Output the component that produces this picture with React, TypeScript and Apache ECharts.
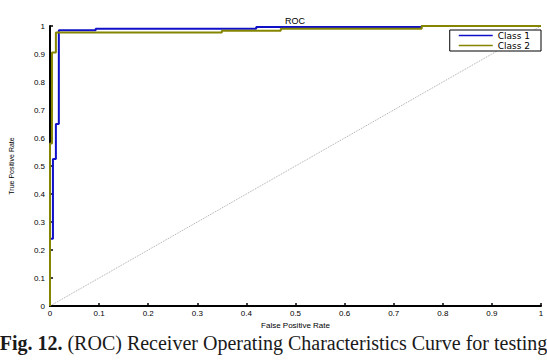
import React, { useEffect, useRef } from "react";
import * as echarts from "echarts";

const class1Points: [number, number][] = [
  [0, 0], [0, 0.24], [0.006, 0.24], [0.006, 0.525], [0.012, 0.525], [0.012, 0.65],
  [0.018, 0.65], [0.018, 0.985], [0.093, 0.985], [0.093, 0.99], [0.42, 0.99],
  [0.42, 0.996], [0.757, 0.996], [0.757, 1], [1, 1],
];
const class2Points: [number, number][] = [
  [0, 0], [0, 0.58], [0.004, 0.58], [0.004, 0.905], [0.012, 0.905], [0.012, 0.977],
  [0.35, 0.977], [0.35, 0.983], [0.47, 0.983], [0.47, 0.99], [0.757, 0.99],
  [0.757, 1], [1, 1],
];
const diagonalPoints: [number, number][] = [[0, 0], [1, 1]];
const seriesNames = ["Class 1", "Class 2"];
const chartTitle = "ROC";
const xAxisName = "False Positive Rate";
const yAxisName = "True Positive Rate";
const captionBold = "Fig. 12.";
const captionRest = " (ROC) Receiver Operating Characteristics Curve for testing";

export default function App() {
  const ref = useRef<HTMLDivElement>(null);
  useEffect(() => {
    if (!ref.current) return;
    const chart = echarts.init(ref.current, null, { renderer: "svg" });
    const sans = "Liberation Sans, Arial, sans-serif";
    const axisCommon = {
      type: "value" as const,
      min: 0,
      max: 1,
      interval: 0.1,
      splitLine: { show: false },
      axisLine: { show: true, lineStyle: { color: "#000", width: 2 } },
      axisTick: { show: true, inside: true, length: 3, lineStyle: { color: "#000", width: 1.5 } },
      axisLabel: {
        color: "#000",
        fontSize: 8,
        fontFamily: sans,
        formatter: (v: number) => (v === 0 || v === 1 ? String(v) : v.toFixed(1)),
      },
      nameTextStyle: { color: "#000", fontSize: 8, fontFamily: sans },
    };
    chart.setOption({
      animation: false,
      backgroundColor: "#fff",
      title: {
        text: chartTitle,
        left: 280,
        top: 11,
        textStyle: { fontSize: 9, fontWeight: "normal", color: "#000", fontFamily: sans },
      },
      legend: {
        right: 6,
        top: 30,
        orient: "vertical",
        data: seriesNames,
        icon: "rect",
        itemWidth: 34,
        itemHeight: 1.5,
        itemGap: 1,
        padding: [1, 11, 1, 9],
        borderColor: "#000",
        borderWidth: 1,
        backgroundColor: "#fff",
        textStyle: { fontSize: 9, lineHeight: 9, color: "#000", fontFamily: "DejaVu Sans, sans-serif", padding: [0, 0, 0, 0] },
      },
      grid: { left: 44, right: 6, top: 26, bottom: 54 },
      xAxis: {
        ...axisCommon,
        name: xAxisName,
        nameLocation: "middle",
        nameGap: 14,
        axisLabel: { ...axisCommon.axisLabel, margin: 3 },
      },
      yAxis: {
        ...axisCommon,
        name: yAxisName,
        nameLocation: "middle",
        nameGap: 35,
        nameTextStyle: { color: "#000", fontSize: 7, fontFamily: sans },
        axisLabel: { ...axisCommon.axisLabel, margin: 5 },
      },
      series: [
        {
          type: "line",
          data: diagonalPoints,
          showSymbol: false,
          silent: true,
          lineStyle: { color: "#a8a8a8", width: 1, type: "dotted" },
          z: 1,
        },
        {
          name: seriesNames[0],
          type: "line",
          data: class1Points,
          showSymbol: false,
          lineStyle: { color: "#1010c8", width: 2 },
          itemStyle: { color: "#1010c8" },
          z: 2,
        },
        {
          name: seriesNames[1],
          type: "line",
          data: class2Points,
          showSymbol: false,
          lineStyle: { color: "#858500", width: 2 },
          itemStyle: { color: "#858500" },
          z: 3,
        },
      ],
      graphic: [
        {
          type: "text",
          left: "center",
          top: 333,
          style: {
            text: `{b|${captionBold}}{r|${captionRest}}`,
            rich: {
              b: { fontFamily: "Liberation Serif, Times New Roman, serif", fontSize: 20, fontWeight: "bold", fill: "#1a1a1a" },
              r: { fontFamily: "Liberation Serif, Times New Roman, serif", fontSize: 20, fill: "#1a1a1a" },
            },
          },
        },
      ],
    });
    return () => chart.dispose();
  }, []);
  return <div ref={ref} style={{ position: "absolute", left: 0, top: 0, width: 547, height: 360 }} />;
}
